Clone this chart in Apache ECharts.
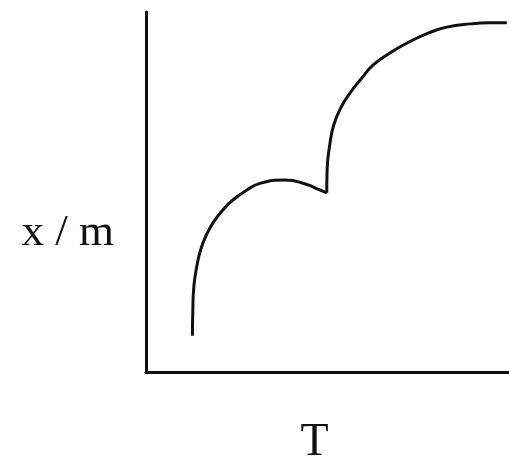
<!DOCTYPE html>
<html>
<head>
<meta charset="utf-8">
<script src="https://cdn.jsdelivr.net/npm/echarts@6/dist/echarts.min.js"></script>
<style>
  html, body { margin: 0; padding: 0; background: #fff; }
  #chart { width: 509px; height: 471px; }
</style>
</head>
<body>
<div id="chart"></div>
<script>
// branch before the dip (low temperature, physisorption)
var lowT = [12.8, 12.9, 13.2, 14.0, 15.1, 16.7, 18.5, 20.9, 23.6, 27.3, 31.4, 38.3, 44.3, 47.5, 49.8];
var lowXM = [10.1, 17.5, 23.9, 29.4, 34.1, 38.2, 41.5, 44.7, 47.5, 50.2, 52.4, 53.3, 52.1, 50.7, 49.8];
// branch after the dip (chemisorption)
var highT = [49.8, 49.9, 50.7, 51.6, 53.4, 56.2, 59.4, 62.6, 67.2, 72.7, 78.2, 82.8, 89.3, 94.8, 99.4];
var highXM = [49.8, 56.2, 63.6, 68.2, 72.9, 77.5, 81.6, 85.3, 88.6, 91.8, 94.3, 95.8, 96.7, 97.0, 97.0];

function pairs(xs, ys) {
  return xs.map(function (x, i) { return [x, ys[i]]; });
}

var chart = echarts.init(document.getElementById("chart"));
var font = "'Liberation Serif', 'DejaVu Serif', serif";

var option = {
  animation: false,
  grid: { left: 146, right: 0, top: 12, bottom: 98 },
  graphic: [
    {
      type: "text",
      right: 395,
      top: 211,
      style: { text: "x / m", font: "45px " + font, fill: "#111" }
    }
  ],
  xAxis: {
    type: "value",
    min: 0,
    max: 100,
    name: "T",
    nameLocation: "middle",
    nameGap: 48,
    nameTextStyle: { fontFamily: font, fontSize: 46, color: "#111", padding: [0, 26, 0, 0] },
    axisLine: { show: true, lineStyle: { color: "#111", width: 3 } },
    axisTick: { show: false },
    axisLabel: { show: false },
    splitLine: { show: false }
  },
  yAxis: {
    type: "value",
    min: 0,
    max: 100,
    axisLine: { show: true, lineStyle: { color: "#111", width: 3 } },
    axisTick: { show: false },
    axisLabel: { show: false },
    splitLine: { show: false }
  },
  series: [
    {
      type: "line",
      data: pairs(lowT, lowXM),
      smooth: 0.5,
      showSymbol: false,
      lineStyle: { color: "#111", width: 3 }
    },
    {
      type: "line",
      data: pairs(highT, highXM),
      smooth: 0.5,
      showSymbol: false,
      lineStyle: { color: "#111", width: 3 }
    }
  ]
};
chart.setOption(option);
</script>
</body>
</html>
